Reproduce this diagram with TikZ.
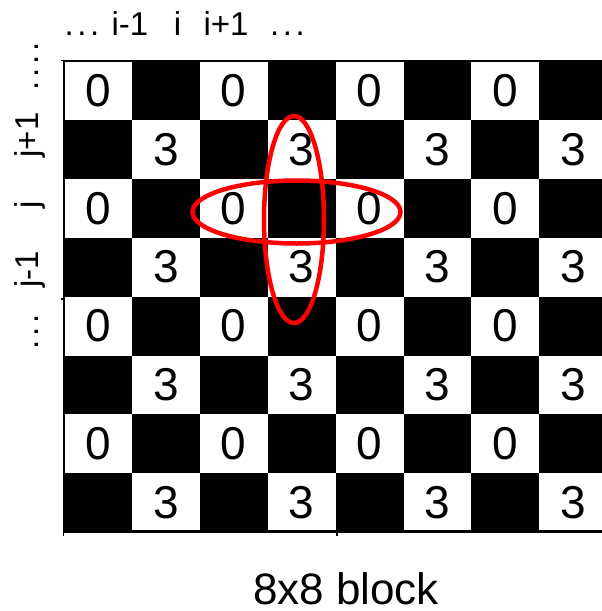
\documentclass[tikz,border=0pt]{standalone}
\usepackage{fontspec}
\setmainfont{Liberation Sans}
\newcommand\mydots{.\kern3.6pt.\kern3.6pt.}
\begin{document}
\begin{tikzpicture}[x=1pt,y=-1pt,
  digit/.style={font=\fontsize{46}{46}\selectfont, inner sep=0pt},
  lab/.style={font=\fontsize{33}{33}\selectfont, inner sep=0pt, anchor=base},
  ring/.style={draw=red, line width=4.5pt},
  frame/.style={line width=2.5pt},
  tick/.style={line width=1.5pt}]
\useasboundingbox (0,0) rectangle (602,611);
\begin{scope}
\clip (0,0) rectangle (602,611);
\foreach \r in {0,...,7}{\foreach \c in {0,...,7}{
  \pgfmathtruncatemacro\s{\r+\c}
  \ifodd\s \fill[black] ({64+67.9*\c},{61+58.9*\r}) rectangle +(67.9,58.9); \fi
}}
\draw[frame] (608,61) -- (64,61) -- (64,531.5) -- (608,531.5);
\draw[tick] (64,60.5) -- (60.5,60.5);
\draw[tick] (64,299) -- (60.5,299);
\draw[tick] (63.5,531.5) -- (63.5,535.5);
\draw[tick] (337,531.5) -- (337,535.5);
\foreach \r in {0,2,4,6}{\foreach \c in {0,2,4,6}{
  \node[digit] (z\r\c) at ({64+67.9*(\c+0.5)},{61+58.9*(\r+0.5)}) {0};
}}
\foreach \r in {1,3,5,7}{\foreach \c in {1,3,5,7}{
  \node[digit] (t\r\c) at ({64+67.9*(\c+0.5)},{61+58.9*(\r+0.5)}) {3};
}}
\draw[ring] (296.5,212) ellipse [x radius=104pt, y radius=31.5pt];
\draw[ring] (294,219.5) ellipse [x radius=30pt, y radius=103.5pt];
\end{scope}
% top labels
\node[lab] (tdl) at (82,35) {\mydots};
\node[lab] (tim) at (130,35) {i-1};
\node[lab] (ti) at (177.5,35) {i};
\node[lab] (tip) at (226,35) {i+1};
\node[lab] (tdr) at (287.5,35) {\mydots};
% left labels
\node[lab, rotate=90] (ldt) at (38.5,66.5) {\mydots\kern3.6pt.};
\node[lab, rotate=90] (ljp) at (38.5,135) {j+1};
\node[lab, rotate=90] (lj) at (38.5,205) {j};
\node[lab, rotate=90] (ljm) at (38.5,269) {j-1};
\node[lab, rotate=90] (ldb) at (38.5,332) {\mydots};
% caption
\node[font=\fontsize{44}{44}\selectfont, anchor=base, inner sep=0pt] (cap) at (346,604) {8x8 block};
\end{tikzpicture}
\end{document}
